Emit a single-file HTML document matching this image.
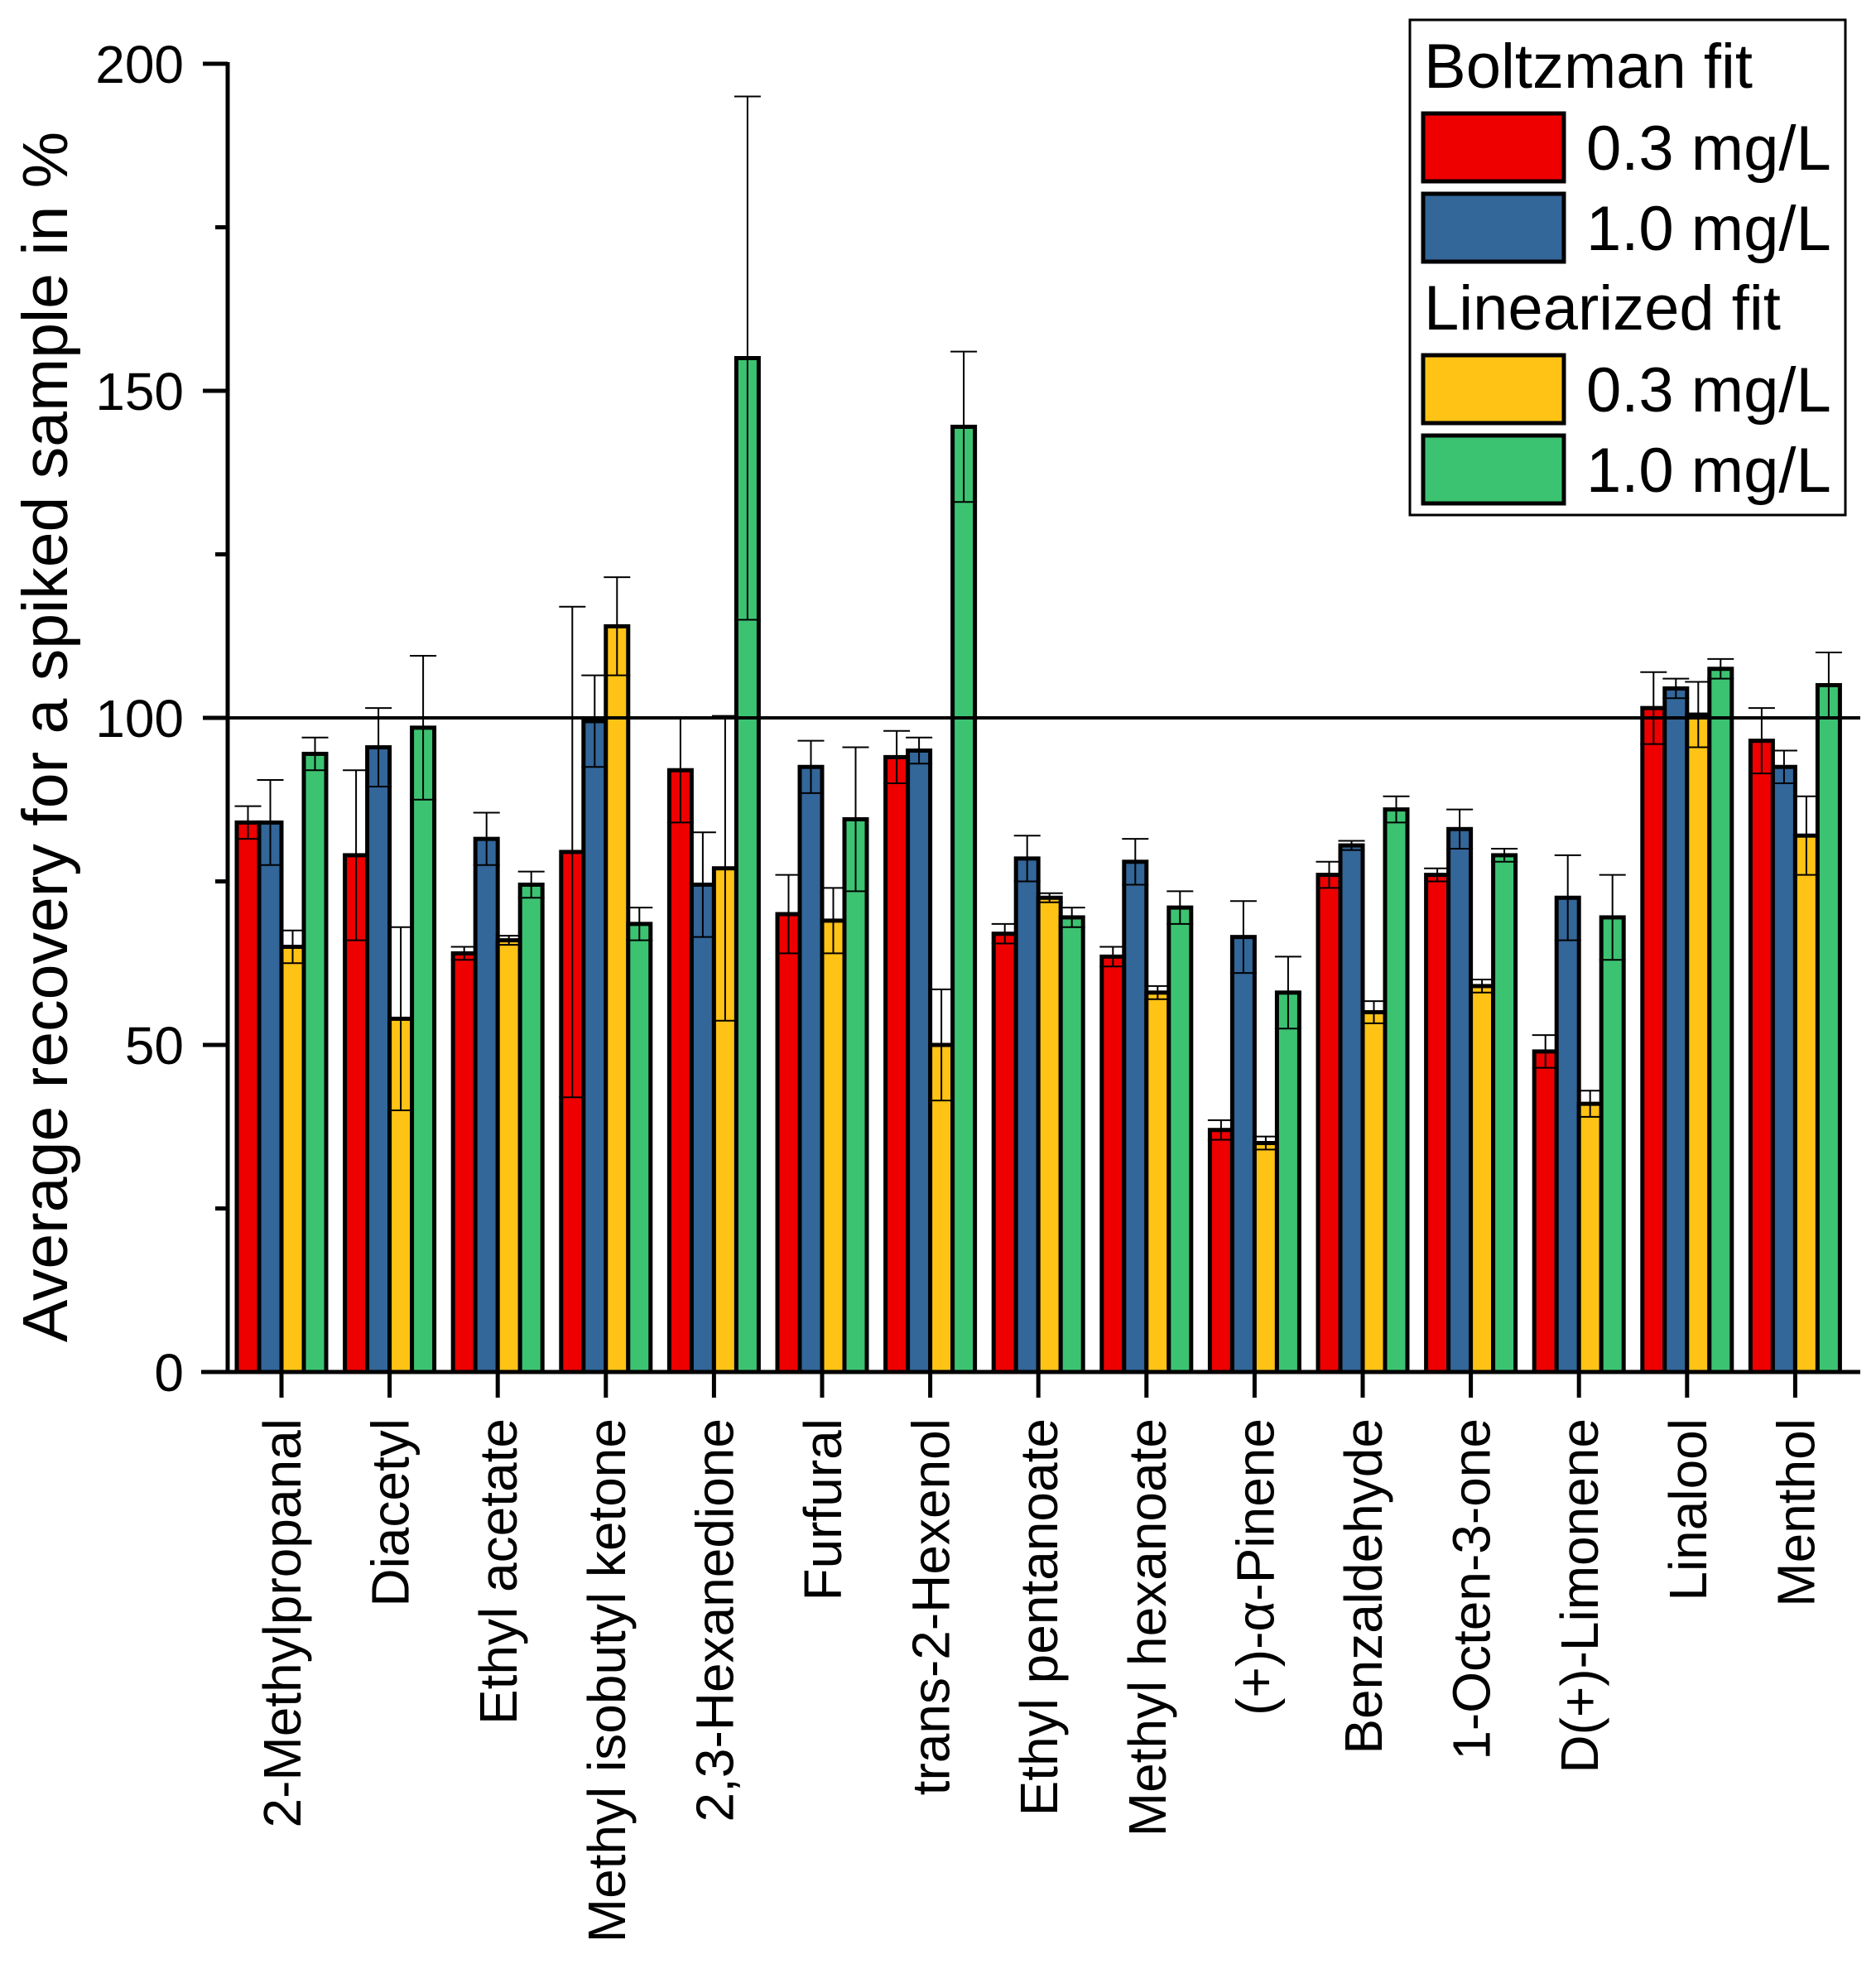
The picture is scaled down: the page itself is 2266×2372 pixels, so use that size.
<!DOCTYPE html>
<html><head><meta charset="utf-8"><style>
html,body{margin:0;padding:0;background:#fff;}
svg{display:block;}
text{font-family:"Liberation Sans",Arial,sans-serif;fill:#000;}
</style></head><body>
<svg id="s" width="2266" height="2372" viewBox="0 0 2266 2372" xmlns="http://www.w3.org/2000/svg">
<rect width="2266" height="2372" fill="#fff"/>
<g id="bars"></g>
<!-- 100 line -->
<line x1="275" y1="867" x2="2247" y2="867" stroke="#000" stroke-width="4"/>
<!-- axes -->
<line x1="275" y1="75" x2="275" y2="1659" stroke="#000" stroke-width="5"/>
<line x1="243" y1="1657" x2="2247" y2="1657" stroke="#000" stroke-width="5"/>
<g stroke="#000" stroke-width="5">
<line x1="245" y1="77" x2="275" y2="77"/>
<line x1="245" y1="472" x2="275" y2="472"/>
<line x1="245" y1="867" x2="275" y2="867"/>
<line x1="245" y1="1262" x2="275" y2="1262"/>
<line x1="260" y1="274.5" x2="275" y2="274.5"/>
<line x1="260" y1="669.5" x2="275" y2="669.5"/>
<line x1="260" y1="1064.5" x2="275" y2="1064.5"/>
<line x1="260" y1="1459.5" x2="275" y2="1459.5"/>
</g>
<g id="xt" stroke="#000" stroke-width="5"></g>
<g font-size="64" text-anchor="end">
<text x="222" y="100">200</text>
<text x="222" y="495">150</text>
<text x="222" y="890">100</text>
<text x="222" y="1285">50</text>
<text x="222" y="1680">0</text>
</g>
<text transform="translate(81,890) rotate(-90)" font-size="77" text-anchor="middle">Average recovery for a spiked sample in %</text>
<g font-size="64" text-anchor="end">
<text transform="translate(363,1713) rotate(-90)">2-Methylpropanal</text>
<text transform="translate(493.6,1713) rotate(-90)">Diacetyl</text>
<text transform="translate(624.2,1713) rotate(-90)">Ethyl acetate</text>
<text transform="translate(754.8,1713) rotate(-90)">Methyl isobutyl ketone</text>
<text transform="translate(885.4,1713) rotate(-90)">2,3-Hexanedione</text>
<text transform="translate(1016,1713) rotate(-90)">Furfural</text>
<text transform="translate(1146.6,1713) rotate(-90)">trans-2-Hexenol</text>
<text transform="translate(1277.2,1713) rotate(-90)">Ethyl pentanoate</text>
<text transform="translate(1407.8,1713) rotate(-90)">Methyl hexanoate</text>
<text transform="translate(1538.4,1713) rotate(-90)">(+)-α-Pinene</text>
<text transform="translate(1669,1713) rotate(-90)">Benzaldehyde</text>
<text transform="translate(1799.6,1713) rotate(-90)">1-Octen-3-one</text>
<text transform="translate(1930.2,1713) rotate(-90)">D(+)-Limonene</text>
<text transform="translate(2060.8,1713) rotate(-90)">Linalool</text>
<text transform="translate(2191.4,1713) rotate(-90)">Menthol</text>
</g>
<!-- legend -->
<rect x="1703" y="24" width="526" height="598" fill="#fff" stroke="#000" stroke-width="3"/>
<g stroke="#000" stroke-width="5">
<rect x="1719" y="137" width="170" height="82" fill="#EE0000"/>
<rect x="1719" y="234" width="170" height="82" fill="#336699"/>
<rect x="1719" y="429" width="170" height="82" fill="#FFC316"/>
<rect x="1719" y="526" width="170" height="82" fill="#3CC371"/>
</g>
<g font-size="76">
<text x="1720" y="106">Boltzman fit</text>
<text x="1916" y="205">0.3 mg/L</text>
<text x="1916" y="302">1.0 mg/L</text>
<text x="1720" y="398">Linearized fit</text>
<text x="1916" y="497">0.3 mg/L</text>
<text x="1916" y="594">1.0 mg/L</text>
</g>
</svg>
<script>
var d=[
[[84,2.5],[84,6.5],[65,2.5],[94.5,2.5]],
[[79,13],[95.5,6],[54,14],[98.5,11]],
[[64,1],[81.5,4],[66,0.7],[74.5,2]],
[[79.5,37.5],[99.5,7],[114,7.5],[68.5,2.5]],
[[92,8],[74.5,8],[77,23.3],[155,40]],
[[70,6],[92.5,4],[69,5],[84.5,11]],
[[94,4],[95,2],[50,8.5],[144.5,11.5]],
[[67,1.5],[78.5,3.5],[72.5,0.7],[69.5,1.5]],
[[63.5,1.5],[78,3.5],[58,1],[71,2.5]],
[[37,1.5],[66.5,5.5],[35,1],[58,5.5]],
[[76,2],[80.5,0.7],[55,1.7],[86,2]],
[[76,1],[83,3],[59,1],[79,1]],
[[49,2.5],[72.5,6.5],[41,2],[69.5,6.5]],
[[101.5,5.5],[104.5,1.5],[100.5,5],[107.5,1.5]],
[[96.5,5],[92.5,2.5],[82,6],[105,5]]];
var cols=["#EE0000","#336699","#FFC316","#3CC371"];
var ns="http://www.w3.org/2000/svg",g=document.getElementById("bars"),xt=document.getElementById("xt");
function Y(v){return 1657-7.9*v;}
function el(p,t,a){var e=document.createElementNS(ns,t);for(var k in a)e.setAttribute(k,a[k]);p.appendChild(e);return e;}
for(var i=0;i<15;i++){var cx=340+130.6*i;
el(xt,"line",{x1:cx,y1:1657,x2:cx,y2:1688});
for(var j=0;j<4;j++){var v=d[i][j][0],e=d[i][j][1],x=cx-54+27*j;
el(g,"rect",{x:x,y:Y(v),width:27,height:1657-Y(v),fill:cols[j],stroke:"#000","stroke-width":5});
var bx=x+13.5;
el(g,"line",{x1:bx,y1:Y(v+e),x2:bx,y2:Y(v-e),stroke:"#000","stroke-width":2});
el(g,"line",{x1:bx-16,y1:Y(v+e),x2:bx+16,y2:Y(v+e),stroke:"#000","stroke-width":2});
el(g,"line",{x1:bx-16,y1:Y(v-e),x2:bx+16,y2:Y(v-e),stroke:"#000","stroke-width":2});
}}
</script>
</body></html>
